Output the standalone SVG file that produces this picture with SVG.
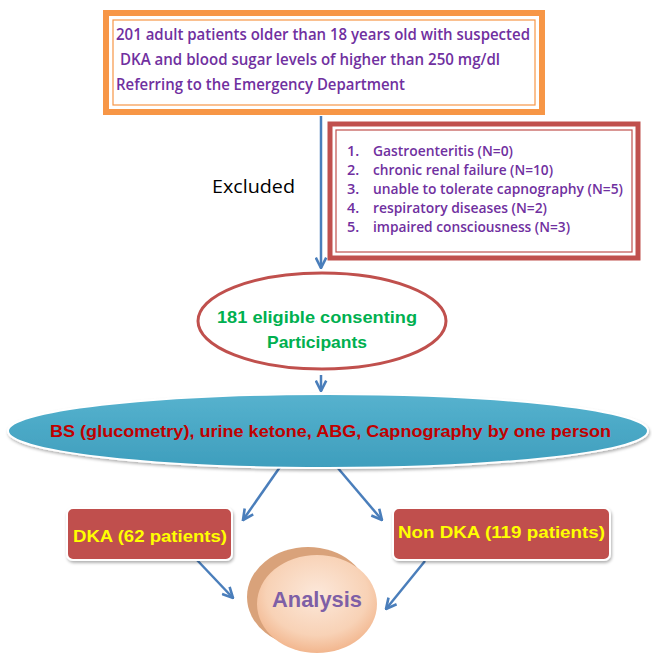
<svg xmlns="http://www.w3.org/2000/svg" width="652" height="653" viewBox="0 0 652 653">
<style>
.purple{font-family:"Open Sans","Liberation Sans",sans-serif;font-weight:600;fill:#7030A0;}
.conn{stroke:#4A7EBB;stroke-width:2.5;fill:none;}
.yel{font-family:"Liberation Sans",Arial,sans-serif;font-weight:bold;font-size:17px;fill:#FFFF00;}
</style>
<defs>
<marker id="ah" viewBox="0 0 10 10" refX="9" refY="5" markerWidth="13" markerHeight="13" markerUnits="userSpaceOnUse" orient="auto">
<path d="M1,1 L9,5 L1,9" fill="none" stroke="#4A7EBB" stroke-width="2"/>
</marker>
<linearGradient id="blueg" x1="0" y1="0" x2="0" y2="1">
<stop offset="0" stop-color="#56B2CE"/>
<stop offset="1" stop-color="#3E9EBD"/>
</linearGradient>
<radialGradient id="peach" cx="0.5" cy="0.4" r="0.6">
<stop offset="0" stop-color="#FCE8DA"/>
<stop offset="0.7" stop-color="#F8D2B6"/>
<stop offset="1" stop-color="#F2B68E"/>
</radialGradient>
<filter id="sh" x="-10%" y="-10%" width="120%" height="130%">
<feDropShadow dx="1" dy="2" stdDeviation="1.5" flood-color="#000" flood-opacity="0.3"/>
</filter>
</defs>
<rect width="652" height="653" fill="#FFFFFF"/>

<g id="connectors">
<line class="conn" x1="321" y1="116" x2="321" y2="268" marker-end="url(#ah)"/>
<line class="conn" x1="321" y1="375" x2="321" y2="391" marker-end="url(#ah)"/>
<line class="conn" x1="280" y1="467" x2="243" y2="520" marker-end="url(#ah)"/>
<line class="conn" x1="337" y1="467" x2="382" y2="520" marker-end="url(#ah)"/>
<line class="conn" x1="197" y1="560" x2="233" y2="598" marker-end="url(#ah)"/>
<line class="conn" x1="425" y1="561" x2="386" y2="609" marker-end="url(#ah)"/>
</g>

<g id="top-box">
<rect x="106" y="13" width="436" height="99" fill="#FFFFFF" stroke="#F79646" stroke-width="6"/>
<rect x="113" y="20" width="422" height="85" fill="none" stroke="#F79646" stroke-width="1.2"/>
<text class="purple" font-size="15.5" x="116" y="40" textLength="414" lengthAdjust="spacingAndGlyphs">201 adult patients older than 18 years old with suspected</text>
<text class="purple" font-size="15.5" x="120" y="65" textLength="380" lengthAdjust="spacingAndGlyphs">DKA and blood sugar levels of higher than 250 mg/dl</text>
<text class="purple" font-size="15.5" x="116" y="90" textLength="289" lengthAdjust="spacingAndGlyphs">Referring to the Emergency Department</text>
</g>

<g id="excluded-label">
<text x="212" y="193" font-family="Open Sans, Liberation Sans, sans-serif" font-size="18" fill="#000000" textLength="83" lengthAdjust="spacingAndGlyphs">Excluded</text>
</g>

<g id="excluded-box">
<rect x="330" y="124" width="308" height="134" fill="#FFFFFF" stroke="#C0504D" stroke-width="5"/>
<rect x="336" y="130" width="296" height="122" fill="none" stroke="#C0504D" stroke-width="1.2"/>
<g class="purple" font-size="14.5">
<text x="347" y="156">1.</text><text x="373" y="156" textLength="140" lengthAdjust="spacingAndGlyphs">Gastroenteritis (N=0)</text>
<text x="347" y="175">2.</text><text x="373" y="175" textLength="180" lengthAdjust="spacingAndGlyphs">chronic renal failure (N=10)</text>
<text x="347" y="194">3.</text><text x="373" y="194" textLength="250" lengthAdjust="spacingAndGlyphs">unable to tolerate capnography (N=5)</text>
<text x="347" y="213">4.</text><text x="373" y="213" textLength="174" lengthAdjust="spacingAndGlyphs">respiratory diseases (N=2)</text>
<text x="347" y="232">5.</text><text x="373" y="232" textLength="197" lengthAdjust="spacingAndGlyphs">impaired consciousness (N=3)</text>
</g>
</g>

<g id="eligible">
<ellipse cx="322" cy="321" rx="124" ry="48" fill="#FFFFFF" stroke="#C0504D" stroke-width="3"/>
<g font-family="Liberation Sans, Arial, sans-serif" font-weight="bold" font-size="17" fill="#00B050" text-anchor="middle">
<text x="317" y="323" textLength="200" lengthAdjust="spacingAndGlyphs">181 eligible  consenting</text>
<text x="317" y="348" textLength="100" lengthAdjust="spacingAndGlyphs">Participants</text>
</g>
</g>

<g id="tests">
<ellipse cx="328" cy="431" rx="320" ry="37" fill="url(#blueg)" stroke="#FFFFFF" stroke-width="2" filter="url(#sh)"/>
<text x="50" y="437" font-family="Liberation Sans, Arial, sans-serif" font-weight="bold" font-size="17" fill="#C00000" textLength="561" lengthAdjust="spacingAndGlyphs">BS (glucometry), urine ketone, ABG, Capnography by one person</text>
</g>

<g id="dka">
<rect x="67" y="508" width="165" height="52" rx="6" fill="#C0504D" stroke="#FFFFFF" stroke-width="2" filter="url(#sh)"/>
<text class="yel" x="73" y="542" textLength="154" lengthAdjust="spacingAndGlyphs">DKA (62 patients)</text>
</g>

<g id="non-dka">
<rect x="393" y="508" width="217" height="52" rx="6" fill="#C0504D" stroke="#FFFFFF" stroke-width="2" filter="url(#sh)"/>
<text class="yel" x="398" y="538" textLength="207" lengthAdjust="spacingAndGlyphs">Non DKA (119 patients)</text>
</g>

<g id="analysis">
<ellipse cx="308" cy="597" rx="61" ry="50" fill="#D9A27A"/>
<ellipse cx="317" cy="604" rx="60" ry="49" fill="url(#peach)"/>
<text x="272" y="607" font-family="Liberation Sans, Arial, sans-serif" font-weight="bold" font-size="22" fill="#7E5FA6" textLength="90" lengthAdjust="spacingAndGlyphs">Analysis</text>
</g>
</svg>
